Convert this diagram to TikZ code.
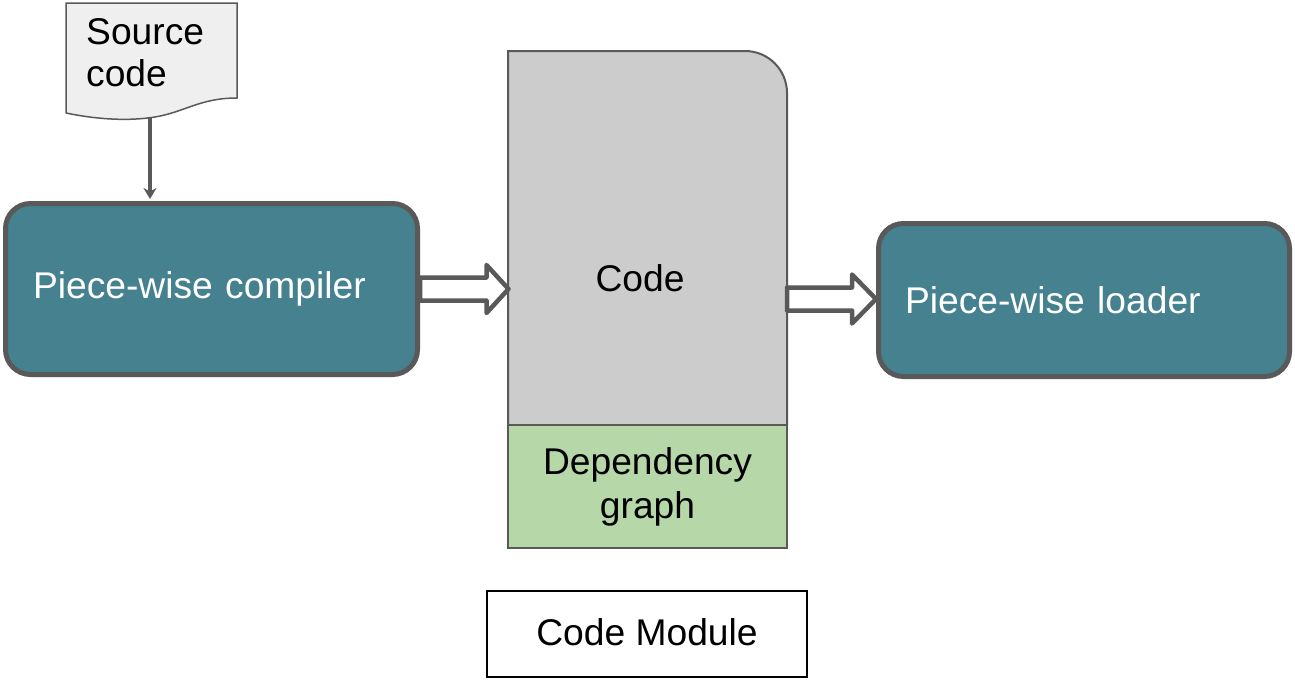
\documentclass[tikz,border=0pt]{standalone}
\usepackage{fontspec}
\setmainfont{Liberation Sans}
\usetikzlibrary{arrows.meta,calc}
\definecolor{edgegray}{HTML}{595959}
\definecolor{tealbox}{HTML}{45818E}
\definecolor{codegray}{HTML}{CCCCCC}
\definecolor{depgreen}{HTML}{B6D7A8}
\definecolor{docgray}{HTML}{EFEFEF}
\begin{document}
\begin{tikzpicture}[x=1pt,y=-1pt,
  font=\fontsize{37.2}{42}\selectfont,
  procbox/.style={draw=edgegray, line width=5pt, fill=tealbox, rounded corners=25pt,
    inner sep=0pt, text=white, align=left},
  plainlabel/.style={inner sep=0pt, align=center},
  blockarrow/.style={draw=edgegray, fill=white, line width=4.5pt, line join=round},
  flow/.style={draw=edgegray, line width=3.5pt, -{Stealth[length=11pt,width=13pt]}}]
\useasboundingbox (0,0) rectangle (1295,680);

% source document
\draw[draw=edgegray, fill=docgray, line width=1.5pt]
  (66,113) -- (66,3) -- (237,3) -- (237,98)
  .. controls (200,98) and (185,112) .. (155,117)
  .. controls (130,121) and (100,120) .. (66,113);
\node[plainlabel, align=left, anchor=north west] (src) at (86,18) {Source\\code};
\coordinate (srcbot) at (150,117);

% compiler
\node[procbox, minimum width=412pt, minimum height=171pt, text width=357pt]
  (comp) at (211.5,289) {Piece-wise compiler};

% loader
\node[procbox, minimum width=411pt, minimum height=153pt, text width=358pt]
  (load) at (1084,300) {Piece-wise loader};

% code module
\draw[draw=edgegray, fill=codegray, line width=2pt]
  (508,425) -- (508,51) -- (745,51) arc[start angle=-90, end angle=0, radius=42] -- (787,425) -- cycle;
\node[plainlabel] (code) at (640,278) {Code};
\coordinate (codeR) at (787,299);
\node[draw=edgegray, fill=depgreen, line width=2pt, minimum width=279pt, minimum height=123pt,
  inner sep=0pt, align=center, font=\fontsize{37.2}{44}\selectfont] (dep) at (647.5,486.5) {Dependency\\graph};

\node[draw=black, line width=1.5pt, minimum width=320pt, minimum height=86pt, inner sep=0pt]
  (mod) at (647,634) {\raisebox{3pt}{Code Module}};

% connectors
\draw[flow, shorten >=2pt] (srcbot) -- (srcbot |- comp.north);

\draw[blockarrow, shift={(comp.east)}]
  (0,-11.5) -- (66.5,-11.5) -- (66.5,-24) -- (88.5,0) -- (66.5,24) -- (66.5,11.5) -- (0,11.5) -- cycle;
\draw[blockarrow, shift={(codeR)}]
  (0,-11.5) -- (65,-11.5) -- (65,-24.5) -- (89,0) -- (65,24.5) -- (65,11.5) -- (0,11.5) -- cycle;
\end{tikzpicture}
\end{document}
